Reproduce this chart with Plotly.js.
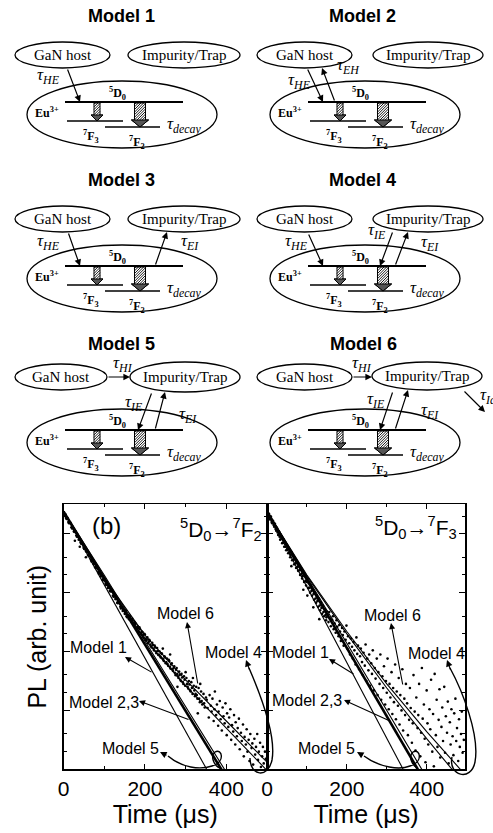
<!DOCTYPE html>
<html>
<head>
<meta charset="utf-8">
<script src="https://cdn.plot.ly/plotly-3.0.1.min.js"></script>
<style>html,body{margin:0;padding:0;background:#fff;}</style>
</head>
<body>
<div id="chart" style="width:493px;height:833px;"></div>
<script>
// ---------------- Decay data: [time (µs), log10 PL] ----------------
const decayF2 = [
  [0,0.36],[1.5,0.32],[3,0.33],[4.5,0.33],[6,0.27],[7.5,0.25],[9,0.27],[10.5,0.26],[12,0.20],[13.5,0.18],[15,0.19],[16.5,0.19],[18,0.17],[19.5,0.11],
  [21,0.09],[22.5,0.12],[24,0.09],[25.5,0.04],[27,0.03],[28,-0.12],[28.5,0.05],[30,0.03],[31.5,-0.03],[33,-0.05],[34.5,-0.02],[36,-0.05],[37.5,-0.10],
  [39,-0.07],[40,-0.22],[40.5,-0.09],[42,-0.15],[43.5,-0.17],[45,-0.15],[46.5,-0.16],[48,-0.17],[49.5,-0.24],[51,-0.26],[52.5,-0.23],[54,-0.25],
  [55,-0.40],[55.5,-0.30],[57,-0.28],[58.5,-0.30],[60,-0.36],[61.5,-0.37],[63,-0.36],[64.5,-0.37],[66,-0.38],[67.5,-0.44],[69,-0.47],[70.5,-0.43],
  [72,-0.46],[73.5,-0.51],[75,-0.49],[76.5,-0.50],[78,-0.57],[79.5,-0.58],[81,-0.56],[82.5,-0.57],[84,-0.59],[85.5,-0.65],[87,-0.68],[88.5,-0.64],
  [90,-0.67],[91.5,-0.72],[93,-0.70],[94.5,-0.71],[96,-0.78],[97.5,-0.79],[99,-0.77],[100.5,-0.78],[102,-0.79],[103.5,-0.85],[105,-0.87],[106.5,-0.84],
  [108,-0.86],[109.5,-0.92],[111,-0.89],[112.5,-0.91],[114,-0.97],[115.5,-0.98],[117,-0.96],[118.5,-0.97],[120,-0.98],[121.5,-1.05],[123,-1.07],
  [124.5,-1.04],[126,-1.06],[127.5,-1.11],[129,-1.08],[130.5,-1.10],[132,-1.17],[133.5,-1.18],[135,-1.15],[136.5,-1.17],[138,-1.18],[139.5,-1.24],
  [141,-1.27],[142.5,-1.23],[144,-1.25],[145.5,-1.31],[147,-1.28],[148.5,-1.30],
  [150.5,-1.36],[152,-1.33],[153.5,-1.31],[155,-1.40],[156.5,-1.42],[158,-1.38],[159.5,-1.40],[161,-1.45],[162.5,-1.39],[164,-1.41],[165.5,-1.47],
  [167,-1.50],[168.5,-1.44],[170,-1.47],[171.5,-1.52],[173,-1.56],[174.5,-1.50],[176,-1.52],[177.5,-1.53],[179,-1.60],[180.5,-1.62],[182,-1.57],
  [183.5,-1.60],[185,-1.66],[186.5,-1.59],[188,-1.62],[189.5,-1.68],[191,-1.70],[192.5,-1.66],[194,-1.67],[195.5,-1.72],[197,-1.76],[198.5,-1.70],
  [200,-1.71],[201.5,-1.78],[203,-1.81],[204.5,-1.80],[206,-1.76],[207.5,-1.86],[209,-1.84],[210.5,-1.80],[212,-1.82],[213.5,-1.88],[215,-1.91],
  [216.5,-1.93],[218,-1.85],[219.5,-1.89],[221,-1.95],[222.5,-1.98],[224,-1.90],[225.5,-1.93],[227,-2.00],[228.5,-2.03],[230,-1.94],[231.5,-1.99],
  [233,-2.06],[234.5,-2.05],[236,-2.00],[237.5,-2.08],[239,-2.10],[240.5,-2.03],[242,-2.04],[243.5,-2.12],[244,-1.95],[245,-2.14],[246.5,-2.16],
  [248,-2.08],[249.5,-2.10],[251,-2.20],[252.5,-2.18],[254,-2.12],[255.5,-2.21],[257,-2.24],[258.5,-2.14],[260,-2.16],[261.5,-2.26],[262,-2.05],
  [263,-2.29],[264.5,-2.22],[266,-2.20],[267.5,-2.30],[269,-2.33],[270.5,-2.28],[272,-2.25],[273.5,-2.36],[275,-2.40],[276.5,-2.31],[278,-2.28],
  [279.5,-2.38],[280,-2.60],[281,-2.42],[282.5,-2.45],[284,-2.34],[285.5,-2.40],[287,-2.48],[288.5,-2.50],[290,-2.38],[291.5,-2.44],[293,-2.52],
  [294.5,-2.55],[296,-2.42],[297.5,-2.48],[299,-2.58],[300,-2.35],[302,-2.45],[303.5,-2.55],[305,-2.60],[306.5,-2.63],[308,-2.50],[309.5,-2.56],
  [311,-2.66],[312.5,-2.68],[314,-2.52],[315.5,-2.62],[317,-2.72],[318,-2.45],[320,-2.58],[321.5,-2.66],[323,-2.76],[324.5,-2.72],[326,-2.60],
  [327.5,-2.74],[329,-2.80],[330,-3.05],[332,-2.62],[333.5,-2.80],[335,-2.86],[336,-2.55],[338,-2.68],[339.5,-2.84],[341,-2.90],[344,-2.72],
  [345.5,-2.88],[347,-2.95],[350,-2.78],
  [352,-2.82],[354,-2.96],[357,-3.12],[359,-2.74],[362,-2.92],[364,-3.02],[366,-2.80],[369,-3.18],[371,-2.98],[372,-2.68],[375,-3.08],[377,-2.90],
  [380,-3.26],[381,-3.02],[384,-2.84],[386,-3.15],[389,-3.34],[391,-2.95],[393,-3.10],[396,-3.22],[398,-2.88],[401,-3.42],[402,-3.05],[405,-3.28],
  [407,-3.12],[410,-2.98],[412,-3.50],[414,-3.25],[417,-3.36],[419,-3.08],[422,-3.58],[423,-3.20],[426,-3.44],[428,-3.30],[431,-3.14],[433,-3.66],
  [436,-3.38],[438,-3.52],[441,-3.24],[443,-3.78],[445,-3.45],[448,-3.58],[450,-3.32],[452,-3.70],[455,-3.50],[457,-3.86],[459,-3.40],[462,-3.64],
  [464,-3.56],[466,-3.92],[469,-3.48],[471,-3.75],[473,-3.62],[476,-3.40],[478,-3.84],[480,-3.70],[483,-3.55],[485,-3.96],[488,-3.78],[490,-3.62],
  [492,-3.90],[495,-3.70],[497,-3.82]
];

const decayF3 = [
  [0,0.36],[1.5,0.31],[3,0.30],[5,0.34],[6.5,0.26],[8,0.24],[10,0.29],[11.5,0.20],[13,0.18],[15,0.22],[16.5,0.15],[18,0.12],[20,0.17],[21.5,0.08],
  [23,0.05],[25,0.10],[26.5,0.02],[28,-0.02],[30,0.04],[31.5,-0.05],[33,-0.10],[35,-0.03],[36.5,-0.08],[38,-0.16],[40,-0.08],[41.5,-0.15],[43,-0.22],
  [45,-0.14],[46.5,-0.22],[48,-0.28],[50,-0.19],[51.5,-0.27],[53,-0.33],[55,-0.26],[56.5,-0.32],[58,-0.40],[59,-0.36],[60,-0.30],[61,-0.55],
  [63,-0.45],[65,-0.38],[66.5,-0.44],[68,-0.52],[70,-0.42],[71.5,-0.50],[73,-0.58],[75,-0.48],[76.5,-0.56],[78,-0.63],[80,-0.55],[81.5,-0.62],
  [83,-0.70],[85,-0.60],[86.5,-0.68],[88,-0.76],[89,-0.72],[90,-0.66],[91,-0.95],[93,-0.82],[95,-0.72],[96.5,-0.80],[98,-0.88],[99,-0.82],
  [100,-0.76],[101,-1.05],[103,-0.92],[105,-0.84],[106.5,-0.92],[108,-1.00],[110,-0.88],[111.5,-0.97],[113,-1.05],[115,-0.95],[116,-1.25],
  [117,-1.02],[118,-1.12],[120,-1.00],[121.5,-1.10],[123,-1.17],[125,-1.05],[126.5,-1.14],[128,-1.24],[130,-1.10],[131,-1.45],[132,-1.22],
  [133,-1.30],[135,-1.16],[136.5,-1.26],[138,-1.36],[140,-1.22],[141.5,-1.33],[143,-1.40],[145,-1.28],[146.5,-1.38],[148,-1.47],[149,-1.42],[150,-1.32],
  [152,-1.38],[154,-1.50],[156,-1.33],[158,-1.44],[160,-1.57],[163,-1.46],[165,-1.40],[167,-1.62],[169,-1.52],[172,-1.68],[174,-1.47],[176,-1.58],
  [179,-1.74],[181,-1.55],[183,-1.66],[185,-1.82],[188,-1.60],[190,-1.72],[192,-1.90],[194,-1.66],[197,-1.80],[199,-1.56],[201,-1.95],[203,-1.74],
  [206,-1.86],[208,-2.05],[210,-1.78],[213,-1.92],[215,-2.12],[217,-1.84],[219,-1.98],[222,-2.22],[224,-1.76],[226,-2.04],[228,-1.90],[231,-2.30],
  [233,-2.08],[235,-1.95],[238,-2.18],[240,-2.40],[242,-2.02],[245,-2.24],[247,-1.88],[249,-2.50],[251,-2.12],[254,-2.32],[256,-2.05],[258,-2.58],
  [261,-2.20],[263,-2.38],[265,-1.98],[268,-2.66],[270,-2.28],[272,-2.46],[275,-2.12],[277,-2.74],[279,-2.35],[282,-2.55],[284,-2.05],[286,-2.82],
  [289,-2.42],[291,-2.62],[293,-2.25],[296,-2.90],[298,-2.50],[300,-2.70],[302,-2.12],[305,-2.98],[307,-2.55],[309,-2.78],[312,-2.35],[314,-3.06],
  [316,-2.62],[318,-2.86],[321,-2.22],[323,-3.15],[325,-2.68],[328,-2.92],[330,-2.45],[332,-3.24],[334,-2.74],[337,-3.00],[339,-2.30],[341,-3.34],
  [344,-2.80],[346,-3.08],[348,-2.55],
  [351,-2.88],[353,-3.42],[356,-3.16],[358,-2.62],[360,-2.96],[363,-3.55],[365,-3.22],[367,-2.40],[370,-3.02],[372,-3.68],[374,-2.78],[377,-3.30],
  [379,-3.08],[381,-2.55],[384,-3.78],[386,-3.38],[388,-2.28],[390,-3.14],[393,-2.90],[395,-3.48],[397,-3.88],[400,-2.66],[402,-3.22],[404,-3.58],
  [407,-2.98],[409,-3.32],[411,-2.48],[414,-3.70],[416,-3.06],[418,-3.95],[420,-2.38],[423,-3.42],[425,-2.82],[427,-3.62],[430,-3.16],[432,-2.64],
  [434,-3.80],[437,-3.28],[439,-2.95],[441,-3.52],[444,-2.60],[446,-3.72],[448,-3.10],[451,-3.38],[453,-2.85],[455,-3.90],[458,-3.20],[460,-3.58],
  [462,-2.98],[465,-3.44],[467,-3.76],[469,-3.05],[472,-2.80],[474,-3.52],[476,-3.30],[479,-3.86],[481,-3.15],[483,-3.62],[486,-3.40],[488,-3.02],
  [490,-3.72],[493,-3.50]
];

// ---------------- Model fits: time (µs) and log10 PL ----------------
const modelsF2 = {
  'Model 1':   {t: [0, 400],                     v: [0.38, -4.60]},
  'Model 2,3': {t: [0, 440],                     v: [0.38, -4.59]},
  'Model 5':   {t: [0, 100, 200, 300, 400],      v: [0.38, -0.70, -1.82, -2.93, -4.05]},
  'Model 4':   {t: [0, 100, 200, 300, 400, 500], v: [0.38, -0.80, -1.80, -2.58, -3.30, -4.02]},
  'Model 6':   {t: [0, 100, 200, 300, 400, 500], v: [0.38, -0.75, -1.72, -2.48, -3.18, -3.88]}
};
const modelsF3 = {
  'Model 1':   {t: [0, 380],                     v: [0.38, -4.50]},
  'Model 2,3': {t: [0, 420],                     v: [0.38, -4.49]},
  'Model 5':   {t: [0, 200, 400],                v: [0.38, -1.86, -4.14]},
  'Model 4':   {t: [0, 100, 200, 300, 400, 500], v: [0.38, -0.72, -1.70, -2.62, -3.48, -4.30]},
  'Model 6':   {t: [0, 100, 200, 300, 400, 500], v: [0.38, -0.70, -1.66, -2.55, -3.36, -4.12]}
};

const timeTicks = [0, 200, 400];
const timeMinorTicks = [100, 300, 500];
const plMajorTicks = [1, 0.1, 0.01, 0.001];
const plMinorTicks = [2, 0.4, 0.2, 0.04, 0.02, 0.004, 0.002, 0.0004, 0.0002];

const SANS = 'Liberation Sans, Arial, Helvetica, sans-serif';
const SERIF = 'Liberation Serif, Times New Roman, serif';
const toPL = v => Math.pow(10, v);

// ---------------- traces ----------------
const traces = [];
function addPanel(points, models, xa, ya) {
  traces.push({
    type: 'scatter', mode: 'markers', x: points.map(p => p[0]), y: points.map(p => toPL(p[1])),
    xaxis: xa, yaxis: ya, marker: {size: 2.6, color: '#000'}, hoverinfo: 'skip', showlegend: false
  });
  Object.keys(models).forEach(name => {
    const m = models[name];
    traces.push({
      type: 'scatter', mode: 'lines', name: name, x: m.t, y: m.v.map(toPL), xaxis: xa, yaxis: ya,
      line: {color: '#000', width: name === 'Model 2,3' ? 2.6 : 1.1},
      hoverinfo: 'skip', showlegend: false
    });
  });
}
addPanel(decayF2, modelsF2, 'x', 'y');
addPanel(decayF3, modelsF3, 'x2', 'y2');

// ---------------- schematic drawing helpers (pixel space on x3/y3) ----------------
const shapes = [];
const annotations = [];
const XR = 'x3', YR = 'y3';
function ell(b, w) {
  shapes.push({type: 'circle', xref: XR, yref: YR, x0: b[0], y0: b[1], x1: b[2], y1: b[3],
    line: {color: '#000', width: w || 1.3}, fillcolor: 'rgba(0,0,0,0)', layer: 'above'});
}
function seg(x0, y0, x1, y1, w) {
  shapes.push({type: 'line', xref: XR, yref: YR, x0, y0, x1, y1, line: {color: '#000', width: w || 1.2}, layer: 'above'});
}
function path(d, w, fill) {
  shapes.push({type: 'path', xref: XR, yref: YR, path: d, line: {color: '#000', width: w || 1.2},
    fillcolor: fill || 'rgba(0,0,0,0)', layer: 'above'});
}
function txt(x, y, text, size, family, extra) {
  annotations.push(Object.assign({xref: XR, yref: YR, x, y, text, showarrow: false,
    font: {family: family || SERIF, size, color: '#000'}, xanchor: 'center', yanchor: 'middle'}, extra || {}));
}
function arrow(x0, y0, x1, y1, w) {
  annotations.push({xref: XR, yref: YR, axref: XR, ayref: YR, x: x1, y: y1, ax: x0, ay: y0, text: '',
    showarrow: true, arrowhead: 2, arrowsize: 1.1, arrowwidth: w || 1.2, arrowcolor: '#000', standoff: 0, startstandoff: 0});
}
function hatchArrow(cx, yTop, yTip, bw, hw, hh) {
  const yNeck = yTip - hh, x0 = cx - bw / 2, x1 = cx + bw / 2;
  path(`M${x0},${yTop} L${x1},${yTop} L${x1},${yNeck} L${cx + hw / 2},${yNeck} L${cx},${yTip} L${cx - hw / 2},${yNeck} L${x0},${yNeck} Z`, 1, '#fff');
  let d = '';
  for (let c = x0 + yTop + 1.3; c < x1 + yNeck; c += 2.6) {
    const xa = Math.max(x0, c - yNeck), xb = Math.min(x1, c - yTop);
    if (xb > xa) d += `M${xa},${c - xa} L${xb},${c - xb} `;
  }
  path(d, 0.9);
  path(`M${cx - hw / 2},${yNeck} L${cx + hw / 2},${yNeck} L${cx},${yTip} Z`, 1, '#555');
}
const tau = sub => `<i>τ<sub>${sub}</sub></i>`;

// ---------------- the six energy-transfer schemes ----------------
const schemes = [
  {name: 'Model 1', dx: 0,   dy: 0,   tx: 121, ty: 16,  gan: [15, 42, 110, 68],   imp: [128, 42, 240, 68]},
  {name: 'Model 2', dx: 243, dy: 0,   tx: 362, ty: 16,  gan: [257, 42, 352, 68],  imp: [373, 42, 483, 68]},
  {name: 'Model 3', dx: 0,   dy: 164, tx: 121, ty: 180, gan: [15, 206, 110, 232], imp: [128, 206, 240, 232]},
  {name: 'Model 4', dx: 243, dy: 164, tx: 362, ty: 180, gan: [257, 206, 352, 232],imp: [373, 206, 483, 232]},
  {name: 'Model 5', dx: 0,   dy: 328, tx: 121, ty: 344, gan: [15, 364, 107, 390], imp: [130, 362, 240, 392]},
  {name: 'Model 6', dx: 243, dy: 328, tx: 363, ty: 344, gan: [257, 364, 352, 390],imp: [372, 362, 482, 390]}
];
schemes.forEach(s => {
  const X = v => v + s.dx, Y = v => v + s.dy;
  txt(s.tx, s.ty, `<b>${s.name}</b>`, 18, SANS);
  ell(s.gan); ell(s.imp);
  txt((s.gan[0] + s.gan[2]) / 2, (s.gan[1] + s.gan[3]) / 2, 'GaN host', 15);
  txt((s.imp[0] + s.imp[2]) / 2, (s.imp[1] + s.imp[3]) / 2, 'Impurity/Trap', 15);
  ell([X(27), Y(81), X(217), Y(148)]);
  seg(X(65), Y(102), X(183), Y(102), 2);
  seg(X(67), Y(121), X(123), Y(121), 1.5);
  seg(X(105), Y(127), X(160), Y(127), 1.5);
  hatchArrow(X(97), Y(103), Y(121), 6, 12, 6);
  hatchArrow(X(140), Y(103), Y(127), 11, 17, 7);
  txt(X(117), Y(93), '<b><sup>5</sup>D<sub>0</sub></b>', 12);
  txt(X(47), Y(112), '<b>Eu<sup>3+</sup></b>', 12);
  txt(X(91), Y(136), '<b><sup>7</sup>F<sub>3</sub></b>', 12);
  txt(X(137), Y(142), '<b><sup>7</sup>F<sub>2</sub></b>', 12);
  txt(X(184), Y(125), tau('decay'), 17);
});
// transfer paths
arrow(67, 68, 80, 102); txt(48, 76, tau('HE'), 17);
arrow(307, 68, 323, 102); txt(299, 81, tau('HE'), 17);
arrow(335, 102, 322, 68); txt(348, 66, tau('EH'), 17);
arrow(68, 232, 80, 266); txt(48, 242, tau('HE'), 17);
arrow(155, 266, 167, 232); txt(190, 242, tau('EI'), 17);
arrow(308, 233, 323, 266); txt(296, 242, tau('HE'), 17);
arrow(393, 231, 380, 266); txt(377, 231, tau('IE'), 17);
arrow(395, 266, 408, 232); txt(430, 243, tau('EI'), 17);
arrow(107, 377, 130, 377); txt(123, 364, tau('HI'), 17);
arrow(152, 392, 138, 430); txt(134, 403, tau('IE'), 17);
arrow(155, 430, 165, 392); txt(188, 415, tau('EI'), 17);
arrow(352, 377, 372, 377); txt(362, 364, tau('HI'), 17);
arrow(393, 391, 380, 430); txt(376, 400, tau('IE'), 17);
arrow(395, 430, 408, 390); txt(430, 411, tau('EI'), 17);
arrow(463, 390, 485, 412); txt(478, 396, tau('Ia'), 17, SERIF, {xanchor: 'left'});

// ---------------- labels inside the decay panels ----------------
txt(106, 525, '(b)', 24, SANS);
txt(221, 529, '<sup>5</sup>D<sub>0</sub>→<sup>7</sup>F<sub>2</sub>', 21, SANS);
txt(416, 527, '<sup>5</sup>D<sub>0</sub>→<sup>7</sup>F<sub>3</sub>', 21, SANS);
const lbl = 16;
txt(185, 613, 'Model 6', lbl, SANS); arrow(198, 685, 187, 622, 1.1);
txt(98, 647, 'Model 1', lbl, SANS);  arrow(153, 673, 125, 657, 1.1);
txt(233, 652, 'Model 4', lbl, SANS);
txt(104, 702, 'Model 2,3', lbl, SANS); arrow(190, 720, 139, 701, 1.1);
txt(130, 748, 'Model 5', lbl, SANS);
txt(392, 615, 'Model 6', lbl, SANS); arrow(403, 686, 391, 623, 1.1);
txt(300, 652, 'Model 1', lbl, SANS); arrow(355, 675, 329, 659, 1.1);
txt(436, 653, 'Model 4', lbl, SANS);
txt(307, 700, 'Model 2,3', lbl, SANS); arrow(392, 722, 344, 700, 1.1);
txt(326, 748, 'Model 5', lbl, SANS);
// curved pointers
path('M250,758 C250,776 268,779 272,760 C276,738 262,698 249,668', 1.4);
arrow(250, 671, 246, 660, 1.2);
path('M452,757 C448,776 471,782 475,762 C480,735 462,690 450,668', 1.4);
arrow(451, 671, 447, 660, 1.2);
path('M168,756 C182,768 200,770 212,766 C226,762 222,748 215,752 C210,756 214,766 220,768', 1.4);
arrow(168, 756, 160, 752, 1.2);
path('M364,756 C380,768 400,770 410,766 C424,762 420,748 413,752 C408,756 412,766 418,768', 1.4);
arrow(364, 756, 357, 752, 1.2);

// ---------------- axes ----------------
const pxX = v => v / 493, pxY = v => 1 - v / 833;
const yDom = [pxY(769.3), pxY(504.3)];
function timeAxis(dom, rng, anchor) {
  return {
    domain: dom, range: rng, anchor: anchor, showgrid: false, zeroline: false,
    showline: true, linecolor: '#000', linewidth: 1.5, mirror: 'ticks',
    ticks: 'inside', ticklen: 5, tickwidth: 1, tickcolor: '#000',
    tickmode: 'array', tickvals: timeTicks, ticktext: timeTicks.map(String),
    minor: {tickmode: 'array', tickvals: timeMinorTicks, ticks: 'inside', ticklen: 3, tickwidth: 1, tickcolor: '#000', showgrid: false},
    tickfont: {family: SANS, size: 21, color: '#000'},
    title: {text: 'Time (μs)', font: {family: SANS, size: 25, color: '#000'}, standoff: 4},
    fixedrange: true
  };
}
function plAxis(anchor, withTitle) {
  return {
    domain: yDom, type: 'log', range: [-4, 0.5], anchor: anchor, showgrid: false, zeroline: false,
    showline: true, linecolor: '#000', linewidth: 1.5, mirror: 'ticks',
    ticks: 'inside', ticklen: 6, tickwidth: 1, tickcolor: '#000', showticklabels: false,
    tickmode: 'array', tickvals: plMajorTicks,
    minor: {tickmode: 'array', tickvals: plMinorTicks, ticks: 'inside', ticklen: 3, tickwidth: 1, tickcolor: '#000', showgrid: false},
    title: withTitle ? {text: 'PL (arb. unit)', font: {family: SANS, size: 25, color: '#000'}, standoff: 8} : {text: ''},
    fixedrange: true
  };
}

const layout = {
  width: 493, height: 833, margin: {l: 0, r: 0, t: 0, b: 0},
  paper_bgcolor: '#fff', plot_bgcolor: 'rgba(0,0,0,0)', showlegend: false,
  font: {family: SANS, color: '#000'},
  xaxis: timeAxis([pxX(63.5), pxX(267)], [0, 500], 'y'),
  yaxis: plAxis('x', true),
  xaxis2: timeAxis([pxX(267), pxX(465)], [0, 496], 'y2'),
  yaxis2: plAxis('x2', false),
  xaxis3: {domain: [0, 1], range: [0, 493], anchor: 'y3', visible: false, fixedrange: true},
  yaxis3: {domain: [0, 1], range: [833, 0], anchor: 'x3', visible: false, fixedrange: true},
  shapes: shapes,
  annotations: annotations
};

Plotly.newPlot('chart', traces, layout, {displayModeBar: false, staticPlot: true});
</script>
</body>
</html>
